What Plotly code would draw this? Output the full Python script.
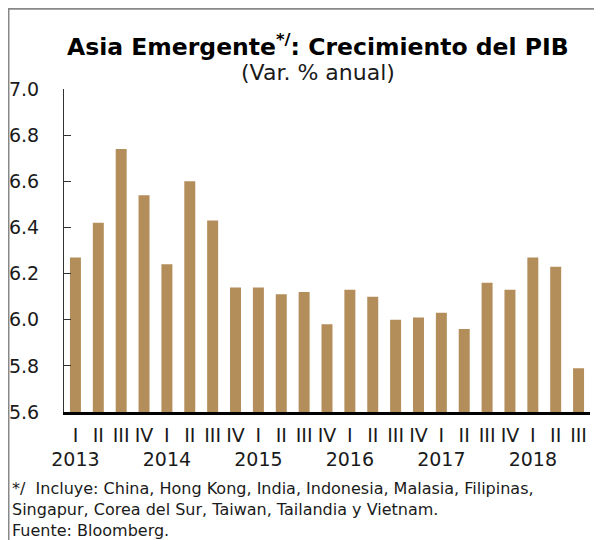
import plotly.graph_objects as go

years = ["2013", "2014", "2015", "2016", "2017", "2018"]
quarters = ["I", "II", "III", "IV"]
periods = [f"{y}-{q}" for y in years for q in quarters][:23]
quarter_labels = [q for y in years for q in quarters][:23]
values = [6.27, 6.42, 6.74, 6.54,
          6.24, 6.60, 6.43, 6.14,
          6.14, 6.11, 6.12, 5.98,
          6.13, 6.10, 6.00, 6.01,
          6.03, 5.96, 6.16, 6.13,
          6.27, 6.23, 5.79]
y_ticks = [5.6, 5.8, 6.0, 6.2, 6.4, 6.6, 6.8, 7.0]

FONT = "DejaVu Sans"
BAR = "#B38D5A"

ticktext = []
for p, q in zip(periods, quarter_labels):
    if q == "I":
        ticktext.append(f"{q}<br>{p.split('-')[0]}")
    else:
        ticktext.append(q)

fig = go.Figure(go.Bar(
    x=periods, y=values, marker=dict(color=BAR, line=dict(width=0)),
    width=0.48, hoverinfo="x+y"))

fig.update_layout(
    width=602, height=540,
    margin=dict(l=56, r=20, t=81, b=136, autoexpand=False),
    paper_bgcolor="white", plot_bgcolor="white",
    showlegend=False,
    font=dict(family=FONT, color="#1a1a1a"),
    xaxis=dict(
        tickmode="array", tickvals=periods, ticktext=ticktext,
        tickfont=dict(size=19, family=FONT), ticks="", showgrid=False,
        tickangle=0, automargin=False,
        showline=True, linecolor="black", linewidth=2.5,
        ticklabelstandoff=4, range=[-0.5, 22.5],
    ),
    yaxis=dict(
        range=[5.6, 7.0], tickvals=y_ticks, automargin=False,
        ticktext=[f"{v:.1f}" for v in y_ticks],
        tickfont=dict(size=19, family=FONT), showgrid=False,
        showline=True, linecolor="#333", linewidth=1,
        ticks="inside", ticklen=7, tickcolor="#333",
        ticklabelstandoff=20, zeroline=False,
    ),
    annotations=[
        dict(text="<b>Asia Emergente<sup>*/</sup>: Crecimiento del PIB</b>",
             xref="paper", yref="paper", x=0.482, y=1.135,
             xanchor="center", yanchor="middle", showarrow=False,
             font=dict(size=23.5, family=FONT, color="black")),
        dict(text="(Var. % anual)",
             xref="paper", yref="paper", x=0.482, y=1.05,
             xanchor="center", yanchor="middle", showarrow=False,
             font=dict(size=22, family=FONT, color="#1a1a1a")),
        dict(text="*/  Incluye: China, Hong Kong, India, Indonesia, Malasia, Filipinas,<br>"
                  "Singapur, Corea del Sur, Taiwan, Tailandia y Vietnam.<br>"
                  "Fuente: Bloomberg.",
             xref="paper", yref="paper", x=-0.102, y=-0.2,
             xanchor="left", yanchor="top", align="left", showarrow=False,
             font=dict(size=16, family=FONT, color="#1a1a1a")),
    ],
    shapes=[
        dict(type="line", xref="paper", yref="paper",
             x0=-0.2, x1=1.1, y0=(403.7 - 0.5) / 323, y1=(403.7 - 0.5) / 323,
             line=dict(color="#888", width=2)),
        dict(type="line", xref="paper", yref="paper",
             x0=-55.5 / 526, x1=-55.5 / 526, y0=1.3, y1=-0.5,
             line=dict(color="#888", width=2)),
    ],
)

fig.write_html("out.html")
